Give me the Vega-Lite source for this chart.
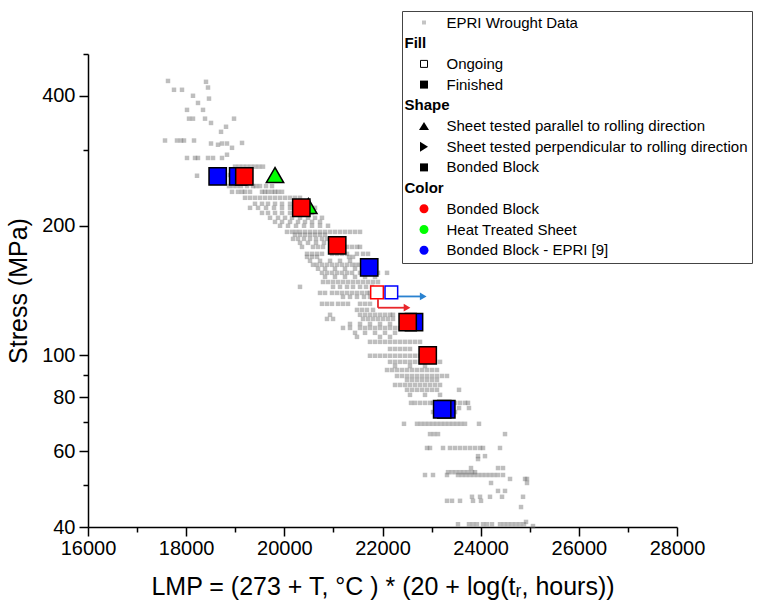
{
  "$schema": "https://vega.github.io/schema/vega-lite/v6.json",
  "autosize": {"type": "none"},
  "padding": {"left": 88, "top": 54, "right": 102, "bottom": 75},
  "width": 589,
  "height": 473,
  "background": "white",
  "config": {
    "view": {"stroke": null},
    "font": "Liberation Sans",
    "axis": {"grid": false, "domainColor": "black", "domainWidth": 1.5, "tickColor": "black", "tickWidth": 1.5, "labelColor": "black", "titleColor": "black", "labelFont": "Liberation Sans", "titleFont": "Liberation Sans", "labelFontSize": 20, "titleFontSize": 25, "titleFontWeight": "normal"}
  },
  "datasets": {
    "epri": [
      {"lmp":17630,"s":433},{"lmp":18404,"s":431},{"lmp":17752,"s":413},{"lmp":17915,"s":413},{"lmp":18445,"s":418},{"lmp":18139,"s":400},{"lmp":18241,"s":385},{"lmp":18465,"s":394},{"lmp":18017,"s":371},{"lmp":18343,"s":371},{"lmp":18058,"s":354},{"lmp":18139,"s":354},{"lmp":18384,"s":354},{"lmp":18506,"s":346},{"lmp":18975,"s":354},{"lmp":18812,"s":339},{"lmp":18710,"s":330},{"lmp":17569,"s":315},{"lmp":17813,"s":315},{"lmp":17895,"s":315},{"lmp":17956,"s":315},{"lmp":18160,"s":315},{"lmp":18506,"s":310},{"lmp":18649,"s":308},{"lmp":18730,"s":310},{"lmp":18832,"s":310},{"lmp":18934,"s":303},{"lmp":19138,"s":311},
      {"lmp":18017,"s":287},{"lmp":18180,"s":287},{"lmp":18241,"s":287},{"lmp":18445,"s":287},{"lmp":18547,"s":287},{"lmp":18730,"s":287},{"lmp":18832,"s":292},{"lmp":18221,"s":261},{"lmp":18893,"s":262},
      {"lmp":18995,"s":274},{"lmp":19077,"s":274},{"lmp":19158,"s":274},{"lmp":19239,"s":274},{"lmp":19321,"s":274},{"lmp":19402,"s":274},{"lmp":19484,"s":274},{"lmp":19565,"s":274},
      {"lmp":18873,"s":247},{"lmp":18954,"s":247},{"lmp":19036,"s":247},{"lmp":19117,"s":247},{"lmp":19239,"s":247},{"lmp":19362,"s":247},{"lmp":19423,"s":247},{"lmp":19504,"s":247},{"lmp":19627,"s":247},{"lmp":19749,"s":247},
      {"lmp":18934,"s":239.5},{"lmp":19056,"s":239.5},{"lmp":19138,"s":239.5},{"lmp":19199,"s":239.5},{"lmp":19301,"s":239.5},{"lmp":19545,"s":239.5},{"lmp":19606,"s":239.5},{"lmp":19667,"s":239.5},{"lmp":19749,"s":239.5},{"lmp":19810,"s":239.5},{"lmp":19871,"s":239.5},{"lmp":19953,"s":239.5},
      {"lmp":19199,"s":232},{"lmp":19301,"s":232},{"lmp":19402,"s":232},{"lmp":19504,"s":232},{"lmp":19606,"s":232},{"lmp":19708,"s":232},{"lmp":19810,"s":232},{"lmp":19912,"s":232},{"lmp":20014,"s":232},{"lmp":20116,"s":232},{"lmp":20217,"s":232},{"lmp":20319,"s":232},
      {"lmp":19402,"s":224.7},{"lmp":19545,"s":224.7},{"lmp":19667,"s":224.7},{"lmp":19810,"s":224.7},{"lmp":19953,"s":224.7},{"lmp":20116,"s":224.7},{"lmp":20279,"s":224.7},{"lmp":20421,"s":224.7},
      {"lmp":19301,"s":219.9},{"lmp":19464,"s":219.9},{"lmp":19627,"s":219.9},{"lmp":19790,"s":219.9},{"lmp":19953,"s":219.9},{"lmp":20116,"s":219.9},{"lmp":20523,"s":219.9},{"lmp":20625,"s":219.9},
      {"lmp":19545,"s":214},{"lmp":19667,"s":214},{"lmp":19810,"s":214},{"lmp":19953,"s":214},{"lmp":20116,"s":214},{"lmp":20279,"s":214},{"lmp":20421,"s":214},{"lmp":20564,"s":214},
      {"lmp":19708,"s":208.5},{"lmp":19871,"s":208.5},{"lmp":20014,"s":208.5},{"lmp":20156,"s":208.5},{"lmp":20319,"s":208.5},{"lmp":20482,"s":208.5},{"lmp":20625,"s":208.5},{"lmp":20767,"s":208.5},
      {"lmp":19810,"s":204},{"lmp":19953,"s":204},{"lmp":20116,"s":204},{"lmp":20279,"s":204},{"lmp":20421,"s":204},{"lmp":20564,"s":204},{"lmp":20727,"s":204},
      {"lmp":19912,"s":199.8},{"lmp":20075,"s":199.8},{"lmp":20238,"s":199.8},{"lmp":20401,"s":199.8},{"lmp":20564,"s":199.8},{"lmp":20727,"s":199.8},{"lmp":20890,"s":199.8},
      {"lmp":20054,"s":193.4},{"lmp":20156,"s":193.4},{"lmp":20238,"s":193.4},{"lmp":20319,"s":193.4},{"lmp":20421,"s":193.4},{"lmp":20523,"s":193.4},{"lmp":20625,"s":193.4},{"lmp":20727,"s":193.4},{"lmp":20829,"s":193.4},{"lmp":20931,"s":193.4},{"lmp":21032,"s":193.4},{"lmp":21134,"s":193.4},{"lmp":21236,"s":193.4},{"lmp":21338,"s":193.4},{"lmp":21440,"s":193.4},{"lmp":21542,"s":193.4},
      {"lmp":20217,"s":190.4},{"lmp":20319,"s":190.4},{"lmp":20421,"s":190.4},{"lmp":20523,"s":190.4},{"lmp":20625,"s":190.4},{"lmp":20727,"s":190.4},{"lmp":20829,"s":190.4},
      {"lmp":20177,"s":186.3},{"lmp":20279,"s":186.3},{"lmp":20401,"s":186.3},{"lmp":20523,"s":186.3},{"lmp":20645,"s":186.3},{"lmp":20767,"s":186.3},{"lmp":20869,"s":186.3},
      {"lmp":20319,"s":182.4},{"lmp":20482,"s":182.4},{"lmp":20645,"s":182.4},{"lmp":20808,"s":182.4},{"lmp":20971,"s":182.4},{"lmp":21134,"s":182.4},
      {"lmp":20360,"s":178.5},{"lmp":20584,"s":178.5},{"lmp":20686,"s":178.5},{"lmp":20788,"s":178.5},{"lmp":21277,"s":178.5},{"lmp":21379,"s":178.5},{"lmp":21480,"s":178.5},{"lmp":21542,"s":178.5},
      {"lmp":20462,"s":172},{"lmp":20564,"s":172},{"lmp":20666,"s":172},{"lmp":20767,"s":172},{"lmp":20971,"s":172},{"lmp":21073,"s":172},{"lmp":21175,"s":172},{"lmp":21277,"s":172},{"lmp":21480,"s":172},{"lmp":21603,"s":172},{"lmp":21705,"s":172},
      {"lmp":20462,"s":169.2},{"lmp":20564,"s":169.2},{"lmp":20666,"s":169.2},{"lmp":21318,"s":169.2},{"lmp":21399,"s":169.2},
      {"lmp":20523,"s":165.7},{"lmp":20727,"s":165.7},{"lmp":20931,"s":165.7},{"lmp":21134,"s":165.7},{"lmp":21338,"s":165.7},
      {"lmp":20584,"s":162.2},{"lmp":20666,"s":162.2},{"lmp":20767,"s":162.2},{"lmp":20869,"s":162.2},{"lmp":20971,"s":162.2},{"lmp":21073,"s":162.2},{"lmp":21175,"s":162.2},{"lmp":21277,"s":162.2},{"lmp":21379,"s":162.2},{"lmp":21460,"s":162.2},{"lmp":21542,"s":162.2},{"lmp":21644,"s":162.2},{"lmp":21745,"s":162.2},
      {"lmp":20686,"s":158.8},{"lmp":20829,"s":158.8},{"lmp":21032,"s":158.8},{"lmp":21236,"s":158.8},{"lmp":21440,"s":158.8},
      {"lmp":20767,"s":155.4},{"lmp":20869,"s":155.4},{"lmp":20971,"s":155.4},{"lmp":21073,"s":155.4},{"lmp":21175,"s":155.4},{"lmp":21277,"s":155.4},{"lmp":21379,"s":155.4},{"lmp":21542,"s":155.4},{"lmp":21664,"s":155.4},{"lmp":21786,"s":155.4},{"lmp":21908,"s":155.4},{"lmp":22092,"s":155.4},
      {"lmp":20829,"s":152.1},{"lmp":21032,"s":152.1},{"lmp":21236,"s":152.1},{"lmp":21440,"s":152.1},{"lmp":21644,"s":152.1},{"lmp":21847,"s":152.1},
      {"lmp":20788,"s":148},{"lmp":20890,"s":148},{"lmp":20992,"s":148},{"lmp":21094,"s":148},{"lmp":21195,"s":148},{"lmp":21297,"s":148},{"lmp":21399,"s":148},{"lmp":21501,"s":148},{"lmp":21603,"s":148},{"lmp":21705,"s":148},{"lmp":21807,"s":148},{"lmp":21908,"s":148},
      {"lmp":20319,"s":144.2},{"lmp":20992,"s":144.2},{"lmp":21134,"s":144.2},{"lmp":21277,"s":144.2},{"lmp":21399,"s":144.2},{"lmp":21542,"s":144.2},{"lmp":21664,"s":144.2},{"lmp":21786,"s":144.2},
      {"lmp":20727,"s":139.6},{"lmp":20829,"s":139.6},{"lmp":20971,"s":139.6},{"lmp":21073,"s":139.6},{"lmp":21175,"s":139.6},{"lmp":21277,"s":139.6},{"lmp":21379,"s":139.6},{"lmp":21480,"s":139.6},{"lmp":21582,"s":139.6},{"lmp":21684,"s":139.6},{"lmp":21745,"s":139.6},
      {"lmp":21195,"s":136.7},{"lmp":21338,"s":136.7},{"lmp":21480,"s":136.7},{"lmp":21623,"s":136.7},{"lmp":21745,"s":136.7},
      {"lmp":20767,"s":131.7},{"lmp":20869,"s":131.7},{"lmp":20971,"s":131.7},{"lmp":21094,"s":131.7},{"lmp":21195,"s":131.7},{"lmp":21297,"s":131.7},{"lmp":21542,"s":131.7},{"lmp":21644,"s":131.7},{"lmp":21745,"s":131.7},
      {"lmp":21480,"s":127.5},{"lmp":21582,"s":127.5},{"lmp":21684,"s":127.5},{"lmp":21807,"s":127.5},
      {"lmp":20931,"s":124.2},{"lmp":21542,"s":124.2},{"lmp":21644,"s":124.2},{"lmp":21745,"s":124.2},{"lmp":21847,"s":124.2},{"lmp":21949,"s":124.2},{"lmp":22051,"s":124.2},{"lmp":22153,"s":124.2},{"lmp":22214,"s":124.2},
      {"lmp":20869,"s":121.5},{"lmp":20992,"s":121.5},{"lmp":21603,"s":121.5},{"lmp":21705,"s":121.5},{"lmp":21807,"s":121.5},{"lmp":21908,"s":121.5},{"lmp":22010,"s":121.5},{"lmp":22112,"s":121.5},{"lmp":22214,"s":121.5},
      {"lmp":21338,"s":118.3},{"lmp":21542,"s":118.3},{"lmp":21745,"s":118.3},{"lmp":21949,"s":118.3},{"lmp":22153,"s":118.3},
      {"lmp":21195,"s":115.8},{"lmp":21338,"s":115.8},{"lmp":21542,"s":115.8},{"lmp":21644,"s":115.8},{"lmp":21745,"s":115.8},{"lmp":21847,"s":115.8},{"lmp":21949,"s":115.8},{"lmp":22051,"s":115.8},{"lmp":22153,"s":115.8},{"lmp":22255,"s":115.8},{"lmp":22357,"s":115.8},
      {"lmp":21440,"s":112.8},{"lmp":21644,"s":112.8},{"lmp":21847,"s":112.8},{"lmp":22051,"s":112.8},{"lmp":22255,"s":112.8},
      {"lmp":21480,"s":110.4},{"lmp":21949,"s":110.4},{"lmp":22153,"s":110.4},
      {"lmp":21745,"s":107.5},{"lmp":21847,"s":107.5},{"lmp":21949,"s":107.5},{"lmp":22051,"s":107.5},{"lmp":22153,"s":107.5},{"lmp":22255,"s":107.5},{"lmp":22357,"s":107.5},{"lmp":22459,"s":107.5},{"lmp":22560,"s":107.5},{"lmp":22662,"s":107.5},{"lmp":22764,"s":107.5},
      {"lmp":22153,"s":103.5},{"lmp":22255,"s":103.5},{"lmp":22357,"s":103.5},{"lmp":22459,"s":103.5},{"lmp":22560,"s":103.5},
      {"lmp":21745,"s":99.8},{"lmp":21847,"s":99.8},{"lmp":21949,"s":99.8},{"lmp":22051,"s":99.8},{"lmp":22153,"s":99.8},{"lmp":22255,"s":99.8},{"lmp":22357,"s":99.8},{"lmp":22459,"s":99.8},{"lmp":22560,"s":99.8},{"lmp":22662,"s":99.8},{"lmp":22764,"s":99.8},
      {"lmp":22153,"s":96.6},{"lmp":22255,"s":96.6},{"lmp":22357,"s":96.6},{"lmp":22459,"s":96.6},{"lmp":22560,"s":96.6},{"lmp":22662,"s":96.6},{"lmp":22764,"s":96.6},{"lmp":22866,"s":96.6},{"lmp":22968,"s":96.6},{"lmp":23070,"s":96.6},{"lmp":23172,"s":96.6},
      {"lmp":22255,"s":94.5},{"lmp":22560,"s":94.5},{"lmp":22866,"s":94.5},
      {"lmp":22092,"s":92.5},{"lmp":22194,"s":92.5},{"lmp":22295,"s":92.5},{"lmp":22397,"s":92.5},{"lmp":22499,"s":92.5},{"lmp":22601,"s":92.5},{"lmp":22703,"s":92.5},{"lmp":22805,"s":92.5},{"lmp":22907,"s":92.5},{"lmp":23009,"s":92.5},{"lmp":23110,"s":92.5},
      {"lmp":22295,"s":89.6},{"lmp":22397,"s":89.6},{"lmp":22499,"s":89.6},{"lmp":22601,"s":89.6},{"lmp":22703,"s":89.6},{"lmp":22805,"s":89.6},{"lmp":22907,"s":89.6},{"lmp":23009,"s":89.6},{"lmp":23110,"s":89.6},{"lmp":23212,"s":89.6},{"lmp":23314,"s":89.6},
      {"lmp":22499,"s":87.7},{"lmp":22601,"s":87.7},{"lmp":22703,"s":87.7},{"lmp":22805,"s":87.7},{"lmp":22907,"s":87.7},{"lmp":23009,"s":87.7},{"lmp":23110,"s":87.7},
      {"lmp":22255,"s":85.4},{"lmp":22357,"s":85.4},{"lmp":22459,"s":85.4},{"lmp":22560,"s":85.4},{"lmp":22662,"s":85.4},{"lmp":22764,"s":85.4},{"lmp":22866,"s":85.4},{"lmp":22968,"s":85.4},{"lmp":23070,"s":85.4},{"lmp":23172,"s":85.4},
      {"lmp":22499,"s":83.2},{"lmp":22601,"s":83.2},{"lmp":22703,"s":83.2},{"lmp":22805,"s":83.2},{"lmp":22907,"s":83.2},{"lmp":23009,"s":83.2},{"lmp":23110,"s":83.2},{"lmp":23559,"s":83.2},
      {"lmp":22560,"s":81},{"lmp":22866,"s":81},{"lmp":23172,"s":81},
      {"lmp":22581,"s":77.6},{"lmp":22662,"s":77.6},{"lmp":22764,"s":77.6},{"lmp":22866,"s":77.6},{"lmp":22968,"s":77.6},{"lmp":23029,"s":77.6},{"lmp":23477,"s":77.6},{"lmp":23579,"s":77.6},{"lmp":23681,"s":77.6},{"lmp":23742,"s":77.6},
      {"lmp":23559,"s":75.5},{"lmp":23762,"s":75.5},{"lmp":23029,"s":73.9},{"lmp":23477,"s":73.9},
      {"lmp":22438,"s":69.4},{"lmp":22703,"s":69.4},{"lmp":22784,"s":69.4},{"lmp":22866,"s":69.4},{"lmp":22947,"s":69.4},{"lmp":23029,"s":69.4},{"lmp":23110,"s":69.4},{"lmp":23192,"s":69.4},{"lmp":23273,"s":69.4},{"lmp":23355,"s":69.4},{"lmp":23436,"s":69.4},{"lmp":23518,"s":69.4},{"lmp":23599,"s":69.4},{"lmp":23681,"s":69.4},{"lmp":23966,"s":69.4},
      {"lmp":22968,"s":65.7},{"lmp":23049,"s":65.7},{"lmp":23131,"s":65.7},{"lmp":24496,"s":65.7},
      {"lmp":22907,"s":61},{"lmp":22968,"s":61},{"lmp":23233,"s":61},{"lmp":23375,"s":61},{"lmp":23477,"s":61},{"lmp":23579,"s":61},{"lmp":23681,"s":61},{"lmp":23783,"s":61},{"lmp":23885,"s":61},{"lmp":23987,"s":61},{"lmp":24048,"s":61},{"lmp":24394,"s":61},
      {"lmp":23946,"s":58.4},{"lmp":24088,"s":58.4},{"lmp":23946,"s":57.5},
      {"lmp":23803,"s":54.8},{"lmp":24353,"s":54.8},{"lmp":24455,"s":54.8},
      {"lmp":23335,"s":53.6},{"lmp":23416,"s":53.6},{"lmp":23497,"s":53.6},{"lmp":23579,"s":53.6},{"lmp":23660,"s":53.6},{"lmp":23742,"s":53.6},{"lmp":23824,"s":53.6},{"lmp":23885,"s":53.6},
      {"lmp":22866,"s":52.8},{"lmp":23029,"s":52.8},{"lmp":23314,"s":52.8},{"lmp":23538,"s":52.8},{"lmp":23620,"s":52.8},{"lmp":23701,"s":52.8},{"lmp":23783,"s":52.8},{"lmp":23864,"s":52.8},{"lmp":23946,"s":52.8},{"lmp":24027,"s":52.8},{"lmp":24109,"s":52.8},{"lmp":24190,"s":52.8},{"lmp":24272,"s":52.8},{"lmp":24353,"s":52.8},{"lmp":24455,"s":52.8},
      {"lmp":24598,"s":51.7},{"lmp":24904,"s":51.7},{"lmp":24944,"s":51.7},
      {"lmp":24211,"s":50.6},{"lmp":24944,"s":50.6},
      {"lmp":24353,"s":48.5},{"lmp":24496,"s":48.5},
      {"lmp":23823,"s":47},{"lmp":23987,"s":47},{"lmp":24190,"s":47},{"lmp":24435,"s":47},{"lmp":24863,"s":47},
      {"lmp":23314,"s":46},{"lmp":23416,"s":46},{"lmp":23579,"s":46},{"lmp":23844,"s":46},{"lmp":24007,"s":46},
      {"lmp":24822,"s":44.5},{"lmp":24924,"s":41.1},
      {"lmp":23538,"s":40.6},{"lmp":23762,"s":40.6},{"lmp":23844,"s":40.6},{"lmp":23925,"s":40.6},{"lmp":24048,"s":40.6},{"lmp":24129,"s":40.6},{"lmp":24231,"s":40.6},{"lmp":24394,"s":40.6},{"lmp":24476,"s":40.6},{"lmp":24557,"s":40.6},{"lmp":24638,"s":40.6},{"lmp":24720,"s":40.6},{"lmp":24802,"s":40.6},{"lmp":24883,"s":40.6},
      {"lmp":25066,"s":40.2}
    ],
    "tests": [
      {"lmp":18642,"s":260,"grp":"Bonded Block - EPRI [9]","orient":"block","status":"Finished"},
      {"lmp":19060,"s":260,"grp":"Bonded Block - EPRI [9]","orient":"block","status":"Finished"},
      {"lmp":21729,"s":160,"grp":"Bonded Block - EPRI [9]","orient":"block","status":"Finished"},
      {"lmp":22642,"s":119.5,"grp":"Bonded Block - EPRI [9]","orient":"block","status":"Finished"},
      {"lmp":23300,"s":75,"grp":"Bonded Block - EPRI [9]","orient":"block","status":"Finished"},
      {"lmp":23216,"s":75,"grp":"Bonded Block - EPRI [9]","orient":"block","status":"Finished"},
      {"lmp":19810,"s":262,"grp":"Heat Treated Sheet","orient":"parallel","status":"Finished"},
      {"lmp":20489,"s":222,"grp":"Heat Treated Sheet","orient":"parallel","status":"Finished"},
      {"lmp":19185,"s":260,"grp":"Bonded Block","orient":"block","status":"Finished"},
      {"lmp":20346,"s":220,"grp":"Bonded Block","orient":"block","status":"Finished"},
      {"lmp":21077,"s":180,"grp":"Bonded Block","orient":"block","status":"Finished"},
      {"lmp":22513,"s":119.5,"grp":"Bonded Block","orient":"block","status":"Finished"},
      {"lmp":22921,"s":100,"grp":"Bonded Block","orient":"block","status":"Finished"},
      {"lmp":21888,"s":140,"grp":"Bonded Block","orient":"block","status":"Ongoing"},
      {"lmp":22180,"s":140,"grp":"Bonded Block - EPRI [9]","orient":"block","status":"Ongoing"}
    ],
    "arrows": [
      {"lmp0":21908,"lmp1":22500,"s":129,"s0":135,"grp":"Bonded Block"},
      {"lmp0":22302,"lmp1":22830,"s":137,"s0":137,"grp":"Bonded Block - EPRI [9]"}
    ],
    "legendItems": [
      {"entry":"EPRI Wrought Data"},{"entry":"Fill"},{"entry":"Ongoing"},{"entry":"Finished"},{"entry":"Shape"},{"entry":"Sheet tested parallel to rolling direction"},{"entry":"Sheet tested perpendicular to rolling direction"},{"entry":"Bonded Block"},{"entry":"Color"},{"entry":"Bonded Block "},{"entry":"Heat Treated Sheet"},{"entry":"Bonded Block - EPRI [9]"}
    ]
  },
  "encoding": {
    "x": {"field": "lmp", "type": "quantitative",
      "scale": {"domain": [16000, 28000], "nice": false, "zero": false},
      "axis": {"title": "LMP = (273 + T, °C ) * (20 + log(tᵣ, hours))", "values": [16000,17000,18000,19000,20000,21000,22000,23000,24000,25000,26000,27000,28000], "format": "d", "labelExpr": "datum.value % 2000 === 0 ? datum.label : ''", "tickSize": {"condition": {"test": "datum.value % 2000 === 0", "value": 9}, "value": 5}, "labelPadding": 2, "titlePadding": 16, "labelFlush": false}},
    "y": {"field": "s", "type": "quantitative",
      "scale": {"type": "log", "domain": [40, 500], "nice": false},
      "axis": {"title": "Stress (MPa)", "values": [40,50,60,70,80,90,100,200,300,400,500], "labelExpr": "indexof([40,60,80,100,200,400], datum.value) >= 0 ? datum.label : ''", "tickSize": {"condition": {"test": "indexof([40,60,80,100,200,400], datum.value) >= 0", "value": 9}, "value": 5}, "labelPadding": 4, "titlePadding": 10, "labelFlush": false}}
  },
  "layer": [
    {"data": {"name": "epri"}, "mark": {"type": "square", "size": 20, "color": "#6e6e6e", "opacity": 0.45}},
    {"data": {"name": "arrows"}, "mark": {"type": "rule", "strokeWidth": 1.8},
      "encoding": {"x2": {"field": "lmp1"}, "x": {"field": "lmp0", "type": "quantitative"},
        "color": {"field": "grp", "type": "nominal", "scale": {"domain": ["Bonded Block", "Bonded Block - EPRI [9]"], "range": ["#e8262b", "#2a82d0"]}, "legend": null}}},
    {"data": {"name": "arrows"}, "mark": {"type": "rule", "strokeWidth": 1.8},
      "encoding": {"x": {"field": "lmp0", "type": "quantitative"}, "y2": {"field": "s0"},
        "color": {"field": "grp", "type": "nominal", "scale": {"domain": ["Bonded Block", "Bonded Block - EPRI [9]"], "range": ["#e8262b", "#2a82d0"]}, "legend": null}}},
    {"data": {"name": "arrows"}, "mark": {"type": "point", "shape": "triangle-right", "filled": true, "size": 60, "opacity": 1},
      "encoding": {"x": {"field": "lmp1", "type": "quantitative"},
        "color": {"field": "grp", "type": "nominal", "scale": {"domain": ["Bonded Block", "Bonded Block - EPRI [9]"], "range": ["#e8262b", "#2a82d0"]}, "legend": null}}},
    {"data": {"name": "tests"}, "transform": [{"filter": "datum.status === 'Finished'"}],
      "mark": {"type": "point", "filled": true, "opacity": 1, "stroke": "black", "strokeWidth": 1.5},
      "encoding": {
        "color": {"field": "grp", "type": "nominal", "scale": {"domain": ["Bonded Block", "Heat Treated Sheet", "Bonded Block - EPRI [9]"], "range": ["#ff0000", "#00ff00", "#0000ff"]}, "legend": null},
        "shape": {"field": "orient", "type": "nominal", "scale": {"domain": ["parallel", "perpendicular", "block"], "range": ["triangle-up", "triangle-right", "square"]}, "legend": null},
        "size": {"field": "orient", "type": "nominal", "scale": {"domain": ["parallel", "perpendicular", "block"], "range": [300, 300, 160]}, "legend": null}}},
    {"data": {"name": "tests"}, "transform": [{"filter": "datum.status === 'Ongoing'"}],
      "mark": {"type": "point", "shape": "square", "size": 160, "fill": "white", "opacity": 1, "strokeWidth": 1.5},
      "encoding": {
        "stroke": {"field": "grp", "type": "nominal", "scale": {"domain": ["Bonded Block", "Heat Treated Sheet", "Bonded Block - EPRI [9]"], "range": ["#ff0000", "#00ff00", "#0000ff"]}, "legend": null}}},
    {"data": {"name": "legendItems"}, "mark": {"type": "point", "opacity": 0, "filled": true},
      "encoding": {
        "fill": {"field": "entry", "type": "nominal",
          "scale": {"domain": ["EPRI Wrought Data","Fill","Ongoing","Finished","Shape","Sheet tested parallel to rolling direction","Sheet tested perpendicular to rolling direction","Bonded Block","Color","Bonded Block ","Heat Treated Sheet","Bonded Block - EPRI [9]"],
                    "range": ["#c4c4c4","transparent","white","black","transparent","black","black","black","transparent","#ff0000","#00ff00","#0000ff"]},
          "legend": {"title": null, "orient": "none", "legendX": 314, "legendY": -43, "strokeColor": "#444444", "fillColor": "white", "padding": 4,
            "labelFont": "Liberation Sans", "labelFontSize": 15, "labelColor": "black", "labelLimit": 1000, "symbolSize": 100, "symbolOffset": 10.5, "rowPadding": 4.7, "symbolStrokeWidth": 1, "symbolOpacity": 1,
            "symbolType": {"expr": "datum.value === 'EPRI Wrought Data' ? 'M-0.4,-0.4H0.4V0.4H-0.4Z' : datum.value === 'Ongoing' ? 'M-0.7,-0.7H0.7V0.7H-0.7Z' : (datum.value === 'Finished' || datum.value === 'Bonded Block') ? 'M-0.8,-0.8H0.8V0.8H-0.8Z' : datum.value === 'Sheet tested parallel to rolling direction' ? 'M0,-0.8L1,0.8L-1,0.8Z' : datum.value === 'Sheet tested perpendicular to rolling direction' ? 'M-0.8,-1L0.8,0L-0.8,1Z' : indexof(['Fill','Shape','Color'], datum.value) >= 0 ? 'M0,0Z' : 'M0.9,0A0.9,0.9,0,1,1,-0.9,0A0.9,0.9,0,1,1,0.9,0Z'"},
            "symbolStrokeColor": {"expr": "datum.value === 'Ongoing' ? 'black' : 'transparent'"},
            "labelFontWeight": {"expr": "indexof(['Fill','Shape','Color'], datum.value) >= 0 ? 'bold' : 'normal'"},
            "labelOffset": {"expr": "indexof(['Fill','Shape','Color'], datum.value) >= 0 ? -27 : 15"}
          }}}}
  ],
  "resolve": {"scale": {"color": "independent", "shape": "independent", "stroke": "independent", "size": "independent", "fill": "independent"}}
}
